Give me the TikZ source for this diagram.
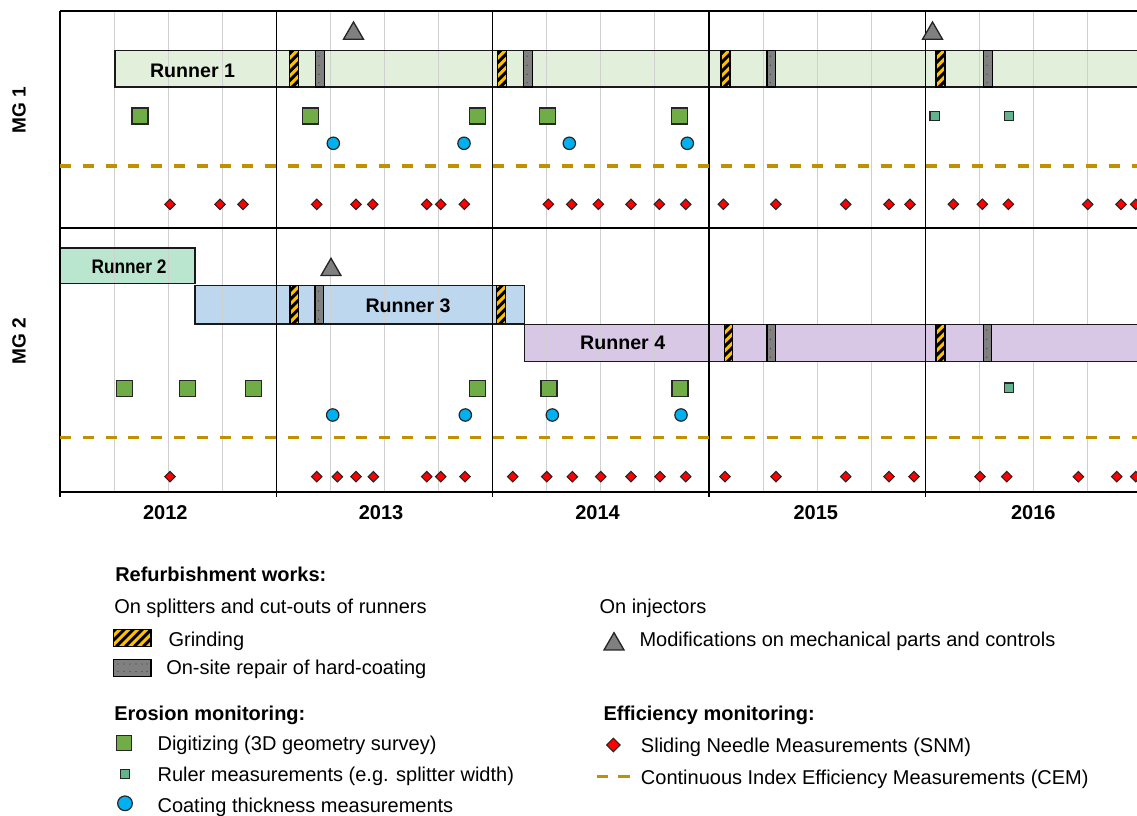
\documentclass[tikz,border=0pt]{standalone}
\usepackage{fontspec}
\setmainfont{Liberation Sans}
\usetikzlibrary{shapes.geometric}
\definecolor{rOne}{HTML}{E2EFDA}
\definecolor{rTwo}{HTML}{BAE6CF}
\definecolor{rThree}{HTML}{BDD7EE}
\definecolor{rFour}{HTML}{D8C8E6}
\definecolor{digi}{HTML}{70AD47}
\definecolor{rul}{HTML}{63B38C}
\definecolor{coat}{HTML}{00B0F0}
\definecolor{cem}{HTML}{BF9000}
\definecolor{grindy}{HTML}{FFC000}
\definecolor{rep}{HTML}{808080}
\definecolor{qline}{HTML}{D0D0D0}
\newcommand\grindmark[4]{%
  \begin{scope}
    \clip (#1,#3) rectangle (#2,#4);
    \fill[grindy] (#1,#3) rectangle (#2,#4);
    \foreach \k in {-60,-51,...,60}{\draw[line width=2.3pt] ({#1+\k},#4) -- ++(60,-60);}
  \end{scope}
  \draw[line width=1pt] (#1,#3) rectangle (#2,#4);}
\newcommand\repmark[4]{%
  \fill[rep] (#1,#3) rectangle (#2,#4);
  \foreach \f in {0.15,0.4,0.65,0.88}{\fill[black!75] ({#1+0.4*(#2-#1)},{#3+\f*(#4-#3)}) circle (0.5pt);}
  \draw[line width=1pt] (#1,#3) rectangle (#2,#4);}
\tikzset{
  qgrid/.style={qline, line width=0.8pt},
  yearline/.style={black, line width=1.1pt},
  barbox/.style={draw=black!90, line width=1.1pt},
  rlabel/.style={font=\bfseries\fontsize{14.7pt}{17pt}\selectfont, inner sep=0pt},
  ylabel/.style={font=\bfseries\fontsize{15pt}{17pt}\selectfont, inner sep=0pt, anchor=base},
  mglabel/.style={font=\bfseries\fontsize{14.3pt}{17pt}\selectfont, inner sep=0pt, rotate=90},
  legtext/.style={font=\fontsize{15pt}{18pt}\selectfont, inner sep=0pt, anchor=base west},
  leghead/.style={font=\bfseries\fontsize{15pt}{18pt}\selectfont, inner sep=0pt, anchor=base west},
  digisq/.style={rectangle, draw=black!85, line width=0.9pt, fill=digi, minimum size=12pt, inner sep=0pt},
  rulsq/.style={rectangle, draw=black!85, line width=0.9pt, fill=rul, minimum size=7pt, inner sep=0pt},
  coatc/.style={circle, draw=black!85, line width=0.9pt, fill=coat, minimum size=9.3pt, inner sep=0pt},
  snm/.style={diamond, draw=black!85, line width=0.8pt, fill=red, minimum size=8.2pt, inner sep=0pt},
  injtri/.style={regular polygon, regular polygon sides=3, draw=black!85, line width=1pt, fill=rep, minimum size=17.3pt, inner sep=0pt},
  cemline/.style={cem, line width=2.3pt, dash pattern=on 8.25pt off 8.85pt},
}
\begin{document}
\begin{tikzpicture}[x=0.75pt,y=-0.75pt]
\useasboundingbox (0,0) rectangle (1137,816);
\clip (0,0) rectangle (1137,816);
% runner bars (fills)
\fill[rOne] (115,50.7) rectangle (1150,87);
\fill[rTwo] (60,248) rectangle (195,283.3);
\fill[rThree] (195,285.7) rectangle (524.7,323.8);
\fill[rFour] (524.7,324.3) rectangle (1150,361.7);
% quarter grid
\foreach \i in {0,...,4}{\foreach \q in {1,2,3}{
  \draw[qgrid] ({60+216.33*\i+54.083*\q},11) -- ({60+216.33*\i+54.083*\q},492);}}
% bar borders
\draw[barbox] (115,50.7) rectangle (1150,87);
\draw[barbox] (60,248) rectangle (195,283.3);
\draw[barbox] (195,285.7) rectangle (524.7,323.8);
\draw[barbox] (524.7,324.3) rectangle (1150,361.7);
% year lines and frame
\foreach \i in {1,...,4}{\draw[yearline] ({60+216.33*\i},11) -- ({60+216.33*\i},497);}
\draw[yearline] (60,11) -- (60,497);
\draw[yearline] (60,11) -- (1145,11);
\draw[yearline] (60,228) -- (1145,228);
\draw[yearline] (60,492) -- (1145,492);
% CEM lines
\draw[cemline] (60,166) -- (1145,166);
\draw[cemline] (60,437.3) -- (1145,437.3);
% refurbishment marks MG1
\grindmark{289.3}{298.3}{50.7}{87}
\grindmark{497.3}{506.5}{50.7}{87}
\grindmark{721}{730}{50.7}{87}
\grindmark{936}{945}{50.7}{87}
\repmark{315.3}{324.3}{50.7}{87}
\repmark{523.5}{532.5}{50.7}{87}
\repmark{767}{775.3}{50.7}{87}
\repmark{983.5}{992.3}{50.7}{87}
% refurbishment marks MG2
\grindmark{290}{298.3}{285.7}{323.8}
\grindmark{496.7}{505.7}{285.7}{323.8}
\repmark{315}{323.5}{285.7}{323.8}
\grindmark{724.3}{732.7}{324.3}{361.7}
\grindmark{936}{945}{324.3}{361.7}
\repmark{767}{775.3}{324.3}{361.7}
\repmark{983.5}{991.7}{324.3}{361.7}
% labels
\node[rlabel] (tR1) at (192.5,70.5) {Runner 1};
\node[rlabel] (tR2) at (129,266.3) {\scalebox{0.88}[1]{Runner 2}};
\node[rlabel] (tR3) at (408,305.5) {Runner 3};
\node[rlabel] (tR4) at (622.7,343.3) {Runner 4};
\node[mglabel] (mg1) at (19,110) {MG 1};
\node[mglabel] (mg2) at (19,341) {MG 2};
\node[ylabel] (y12) at (165.3,519) {2012};
\node[ylabel] (y13) at (381,519) {2013};
\node[ylabel] (y14) at (597.5,519) {2014};
\node[ylabel] (y15) at (815.8,519) {2015};
\node[ylabel] (y16) at (1033.3,519) {2016};
% injector modifications
\node[injtri] (triA) at (353.5,33.5) {};
\node[injtri] (triB) at (932.5,33.5) {};
\node[injtri] (triC) at (331,269.8) {};
% MG1 measurements
\foreach \x [count=\i] in {140,310.3,477.7,547.3,679.3}{\node[digisq] (dA\i) at (\x,116) {};}
\foreach \x [count=\i] in {934.7,1009}{\node[rulsq] (rA\i) at (\x,116) {};}
\foreach \x [count=\i] in {333.3,464,569.3,687.3}{\node[coatc] (cA\i) at (\x,143.3) {};}
\foreach \x [count=\i] in {170,220,243,316.7,356,372.7,426.7,440.7,464.3,548.3,571.7,598.3,631,659.3,685.7,723.3,775.8,845.7,889,910,953.3,982.3,1008.3,1087.7,1121,1135.7}{\node[snm] (sA\i) at (\x,204.3) {};}
% MG2 measurements
\foreach \x [count=\i] in {124.3,187.3,253.3,477.7,549,680}{\node[digisq] (dB\i) at (\x,388.3) {};}
\node[rulsq] (rB1) at (1009,387.7) {};
\foreach \x [count=\i] in {332.7,465.3,552.3,681}{\node[coatc] (cB\i) at (\x,415) {};}
\foreach \x [count=\i] in {170,316.7,337.3,356,373.3,426.7,440.7,465,512.7,546.7,572.3,600.7,631,660,685.7,725,776,845.7,889,914,980,1006.7,1078.3,1116.7,1135.7}{\node[snm] (sB\i) at (\x,476.7) {};}
% legend
\node[leghead] (lh1) at (115,581.7) {Refurbishment works:};
\node[legtext] (l1) at (114,613.3) {On splitters and cut-outs of runners};
\grindmark{113.3}{151}{629.3}{646.5}
\node[legtext] (l2) at (168.3,646.7) {Grinding};
\fill[rep] (113.3,659.3) rectangle (151,676.5);
\foreach \xx in {118,124,130,136,142,147}{\foreach \yy in {664,671.5}{\fill[black!75] (\xx,\yy) circle (0.5pt);}}
\draw[line width=1pt] (113.3,659.3) rectangle (151,676.5);
\node[legtext] (l3) at (166,674.3) {On-site repair of hard-coating};
\node[leghead] (lh2) at (114,720) {Erosion monitoring:};
\node[digisq, minimum size=11.25pt] (ld) at (124.2,743) {};
\node[legtext] (l4) at (157.3,750) {Digitizing (3D geometry survey)};
\node[rulsq] (lr) at (125,773.8) {};
\node[legtext] (l5) at (157.3,781.7) {Ruler measurements (e.g. splitter width)};
\node[coatc, minimum size=11pt] (lc) at (125,803.3) {};
\node[legtext] (l6) at (157.3,812) {Coating thickness measurements};
\node[legtext] (l7) at (599.3,613.3) {On injectors};
\node[injtri] (lt) at (614,644.2) {};
\node[legtext] (l8) at (639.3,646.7) {Modifications on mechanical parts and controls};
\node[leghead] (lh3) at (603.3,720.7) {Efficiency monitoring:};
\node[snm, minimum size=10.5pt] (ls) at (613.3,745) {};
\node[legtext] (l9) at (640.7,752.7) {Sliding Needle Measurements (SNM)};
\coordinate (cemA) at (596.7,776.7);
\coordinate (cemB) at (630,776.7);
\draw[cemline, dash pattern=on 8.7pt off 7.5pt] (cemA) -- (cemB);
\node[legtext] (l10) at (640.7,784) {Continuous Index Efficiency Measurements (CEM)};
\end{tikzpicture}
\end{document}
